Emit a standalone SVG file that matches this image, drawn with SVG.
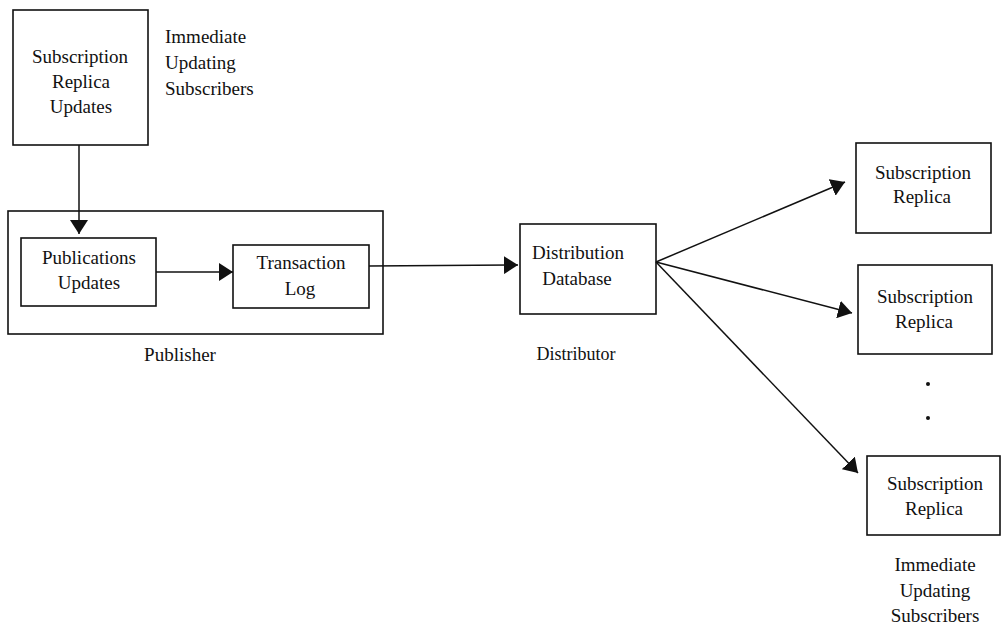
<svg xmlns="http://www.w3.org/2000/svg" width="1001" height="626" viewBox="0 0 1001 626">
<defs>
<style>
.box{fill:#fff;stroke:#111;stroke-width:1.6}
.t{font-family:"Liberation Serif","Times New Roman",serif;font-size:19px;fill:#111;text-anchor:middle}
.tl{font-family:"Liberation Serif","Times New Roman",serif;font-size:19px;fill:#111;text-anchor:start}
.c{stroke:#111;stroke-width:1.5;fill:none;marker-end:url(#ah)}
</style>
<marker id="ah" markerUnits="userSpaceOnUse" markerWidth="14" markerHeight="18" refX="14" refY="9" orient="auto">
<path d="M0,0 L14,9 L0,18 z" fill="#111"/>
</marker>
</defs>
<rect width="1001" height="626" fill="#fff"/>

<g id="publisher">
<rect class="box" x="8" y="211" width="375" height="123"/>
<text class="t" x="180" y="361">Publisher</text>
</g>

<g id="sub-replica-updates">
<rect class="box" x="13" y="10" width="135" height="135"/>
<text class="t" x="80" y="63">Subscription</text>
<text class="t" x="81" y="88">Replica</text>
<text class="t" x="81" y="113">Updates</text>
<text class="tl" x="165" y="43">Immediate</text>
<text class="tl" x="165" y="69">Updating</text>
<text class="tl" x="165" y="95">Subscribers</text>
</g>

<g id="publications-updates">
<rect class="box" x="21" y="238" width="135" height="68"/>
<text class="t" x="89" y="264">Publications</text>
<text class="t" x="89" y="289">Updates</text>
</g>

<g id="transaction-log">
<rect class="box" x="233" y="245" width="136" height="63"/>
<text class="t" x="301" y="269">Transaction</text>
<text class="t" x="300" y="295">Log</text>
</g>

<g id="distribution-database">
<rect class="box" x="520" y="224" width="136" height="90"/>
<text class="t" x="578" y="259">Distribution</text>
<text class="t" x="577" y="285">Database</text>
<text class="t" x="576" y="360" style="font-size:18px">Distributor</text>
</g>

<g id="replica-1">
<rect class="box" x="856" y="143" width="135" height="90"/>
<text class="t" x="923" y="179">Subscription</text>
<text class="t" x="922" y="203">Replica</text>
</g>

<g id="replica-2">
<rect class="box" x="858" y="265" width="134" height="89"/>
<text class="t" x="925" y="303">Subscription</text>
<text class="t" x="924" y="328">Replica</text>
</g>

<g id="ellipsis">
<circle cx="928" cy="384" r="2" fill="#111"/>
<circle cx="928" cy="418" r="2" fill="#111"/>
</g>

<g id="replica-3">
<rect class="box" x="867" y="456" width="133" height="79"/>
<text class="t" x="935" y="490">Subscription</text>
<text class="t" x="934" y="515">Replica</text>
<text class="t" x="935" y="571">Immediate</text>
<text class="t" x="935" y="597">Updating</text>
<text class="t" x="935" y="622">Subscribers</text>
</g>

<g id="connectors">
<line class="c" x1="79" y1="145" x2="79" y2="234"/>
<line class="c" x1="156" y1="272" x2="233" y2="272"/>
<line class="c" x1="369" y1="266" x2="518" y2="265"/>
<line class="c" x1="656" y1="262" x2="845" y2="182"/>
<line class="c" x1="656" y1="262" x2="852" y2="313"/>
<line class="c" x1="656" y1="262" x2="858" y2="473"/>
</g>
</svg>
